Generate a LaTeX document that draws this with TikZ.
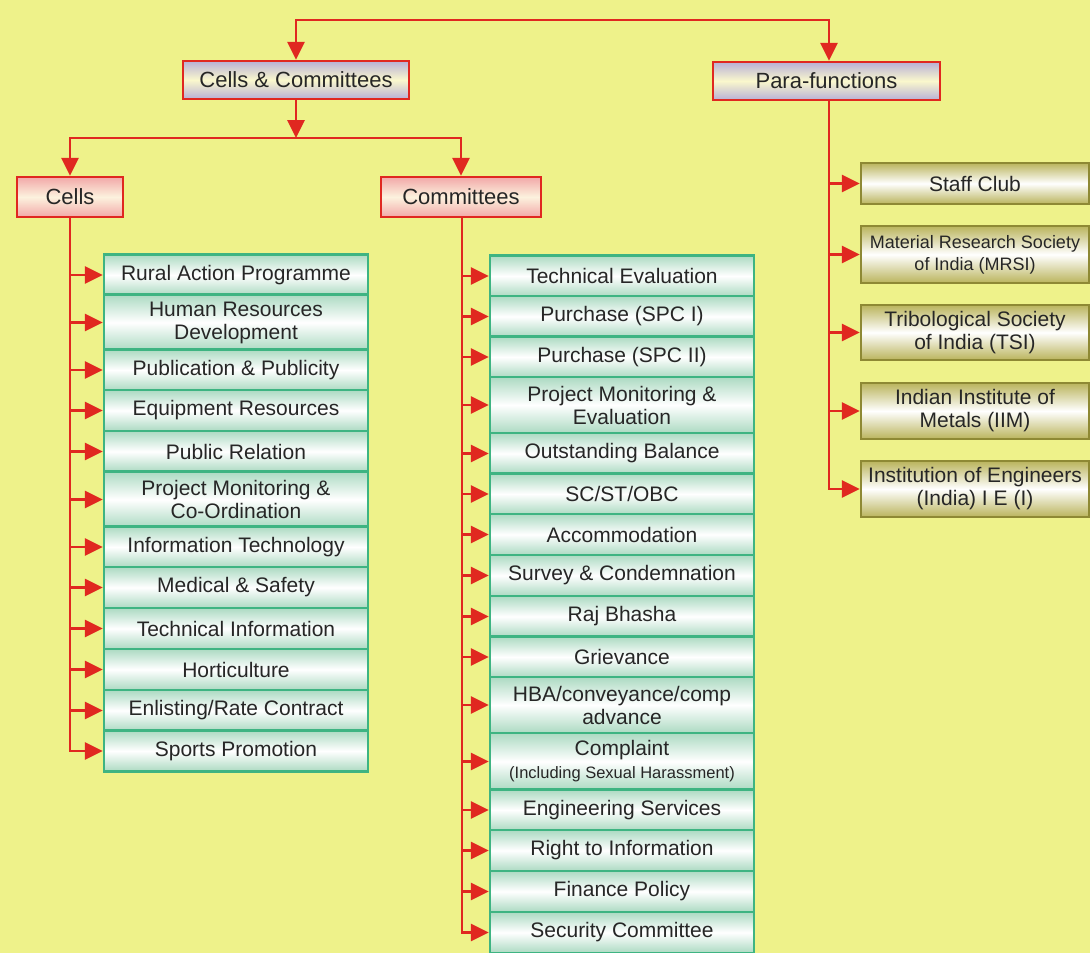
\documentclass[tikz,border=0pt]{standalone}
\usepackage{fontspec}
\setmainfont{Liberation Sans}
\usetikzlibrary{arrows.meta}

\definecolor{bgyellow}{RGB}{238,242,138}
\definecolor{linered}{RGB}{224,40,32}
\definecolor{headlav}{RGB}{184,176,214}
\definecolor{headmid}{RGB}{250,248,205}
\definecolor{headpink}{RGB}{242,168,168}
\definecolor{headcream}{RGB}{252,242,222}
\definecolor{itemgreen}{RGB}{62,180,130}
\definecolor{itemfill}{RGB}{172,218,194}
\definecolor{paraolive}{RGB}{142,137,52}
\definecolor{parafill}{RGB}{186,180,92}

\tikzset{
  x=1pt, y=-1pt,
  arr/.style={draw=linered, line width=2.8pt, -{Triangle[length=18pt,width=17pt]}},
  headbox/.style={draw=linered, line width=2.5pt, inner sep=0pt, minimum height=38pt,
    top color=headlav, bottom color=headlav, middle color=headmid,
    text=black!85, font=\fontsize{22}{24}\selectfont},
  subhead/.style={headbox, top color=headpink, bottom color=headpink, middle color=headcream,
    minimum height=40pt},
  cellitem/.style={draw=itemgreen, line width=2.5pt, inner sep=0pt, align=center,
    minimum width=264pt, minimum height=41pt,
    top color=itemfill, bottom color=itemfill, middle color=white,
    text=black!85, font=\fontsize{21}{23}\selectfont},
  paraitem/.style={cellitem, draw=paraolive, minimum width=228pt,
    top color=parafill, bottom color=parafill, middle color=white},
  tall/.style={minimum height=56pt}
}

\begin{document}
\begin{tikzpicture}
  \useasboundingbox (0,0) rectangle (1090,953);
  \fill[bgyellow] (0,0) rectangle (1090,953);

  % headers
  \node[headbox, minimum width=226pt] (cc) at (296,80) {Cells \& Committees};
  \node[headbox, minimum width=227pt] (para) at (826.5,81) {Para-functions};
  \node[subhead, minimum width=106pt] (cells) at (70,197) {Cells};
  \node[subhead, minimum width=160pt] (comm) at (461,197) {Committees};

  % cells
  \node[cellitem] (ca1) at (236,275) {Rural Action Programme};
  \node[cellitem, tall] (ca2) at (236,322.5) {Human Resources\\Development};
  \node[cellitem] (ca3) at (236,370) {Publication \& Publicity};
  \node[cellitem] (ca4) at (236,410.5) {Equipment Resources};
  \node[cellitem] (ca5) at (236,451.5) {Public Relation};
  \node[cellitem, tall] (ca6) at (236,499.5) {Project Monitoring \&\\Co-Ordination};
  \node[cellitem] (ca7) at (236,547) {Information Technology};
  \node[cellitem] (ca8) at (236,587.5) {Medical \& Safety};
  \node[cellitem] (ca9) at (236,628.5) {Technical Information};
  \node[cellitem] (ca10) at (236,669.5) {Horticulture};
  \node[cellitem] (ca11) at (236,710.5) {Enlisting/Rate Contract};
  \node[cellitem] (ca12) at (236,751) {Sports Promotion};

  % committees
  \node[cellitem] (co1) at (622,276) {Technical Evaluation};
  \node[cellitem] (co2) at (622,316.5) {Purchase (SPC I)};
  \node[cellitem] (co3) at (622,357) {Purchase (SPC II)};
  \node[cellitem, tall] (co4) at (622,405) {Project Monitoring \&\\Evaluation};
  \node[cellitem] (co5) at (622,453.5) {Outstanding Balance};
  \node[cellitem] (co6) at (622,494) {SC/ST/OBC};
  \node[cellitem] (co7) at (622,534.5) {Accommodation};
  \node[cellitem] (co8) at (622,575.5) {Survey \& Condemnation};
  \node[cellitem] (co9) at (622,616.5) {Raj Bhasha};
  \node[cellitem] (co10) at (622,657) {Grievance};
  \node[cellitem, tall] (co11) at (622,705) {HBA/conveyance/comp\\advance};
  \node[cellitem, minimum height=57pt] (co12) at (622,761.5)
    {Complaint\\{\fontsize{16.5}{19}\selectfont (Including Sexual Harassment)}};
  \node[cellitem] (co13) at (622,810) {Engineering Services};
  \node[cellitem] (co14) at (622,850.5) {Right to Information};
  \node[cellitem] (co15) at (622,891.5) {Finance Policy};
  \node[cellitem] (co16) at (622,932.5) {Security Committee};

  % para-functions
  \node[paraitem] (pf1) at (975,183.5) {Staff Club};
  \node[paraitem, minimum height=57pt, font=\fontsize{18}{22}\selectfont] (pf2) at (975,254.5)
    {Material Research Society\\of India (MRSI)};
  \node[paraitem, minimum height=55pt] (pf3) at (975,332.5) {Tribological Society\\of India (TSI)};
  \node[paraitem, tall] (pf4) at (975,411) {Indian Institute of\\Metals (IIM)};
  \node[paraitem, tall] (pf5) at (975,489) {Institution of Engineers\\(India) I E (I)};

  % connectors
  \coordinate (topbar) at (560,20);
  \coordinate (split) at (296,138);
  \draw[arr] (topbar) -| (cc.north);
  \draw[arr] (topbar) -| ([xshift=2.5pt]para.north);
  \draw[arr] (cc.south) -- (split);
  \draw[arr] (split) -| (cells.north);
  \draw[arr] (split) -| (comm.north);
  \foreach \i in {1,...,12}
    \draw[arr] (cells.south) |- (ca\i.west);
  \foreach \i in {1,...,16}
    \draw[arr] ([xshift=1pt]comm.south) |- (co\i.west);
  \foreach \i in {1,...,5}
    \draw[arr] ([xshift=2.5pt]para.south) |- (pf\i.west);
\end{tikzpicture}
\end{document}
